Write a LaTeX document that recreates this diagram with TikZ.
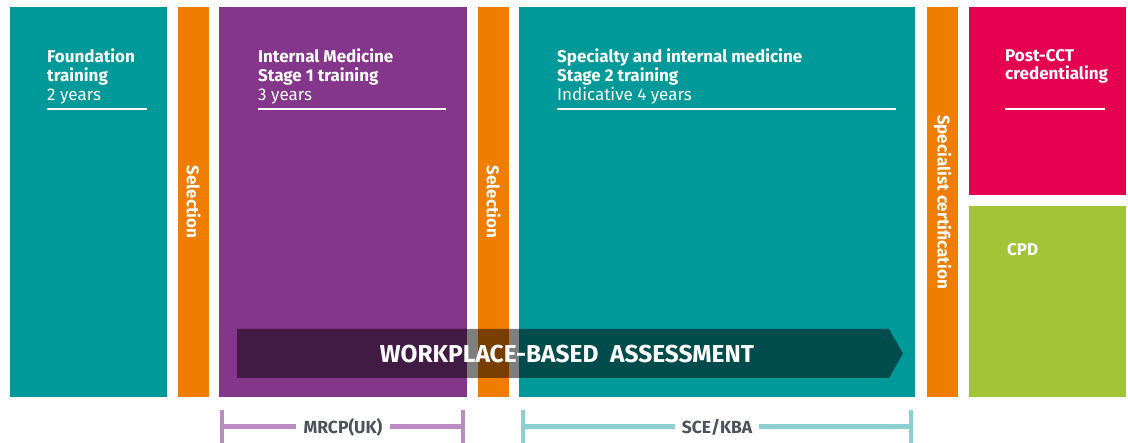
\documentclass[tikz,border=0pt]{standalone}
\usepackage{fontspec}
\setmainfont{Fira Sans}
\definecolor{tealbox}{HTML}{009999}
\definecolor{purplebox}{HTML}{84378A}
\definecolor{orangebar}{HTML}{EF7D00}
\definecolor{pinkbox}{HTML}{E4004F}
\definecolor{greenbox}{HTML}{A2C437}
\definecolor{mrcpline}{HTML}{BB8CC1}
\definecolor{sceline}{HTML}{8DD0D1}
\definecolor{labelgrey}{HTML}{4C5258}

\begin{document}
\begin{tikzpicture}[x=1pt, y=-1pt,
		box/.style={anchor=north west, inner sep=0, outer sep=0},
		head/.style={anchor=north west, inner sep=0, align=left, text=white, font=\fontsize{17}{18.5}\selectfont\bfseries},
		bartext/.style={rotate=-90, text=white, inner sep=0, font=\fontsize{17}{17}\selectfont\bfseries},
		rule/.style={white, line width=2.5pt},
		bracketlabel/.style={anchor=base, inner xsep=7pt, text=labelgrey, font=\fontsize{17.5}{17.5}\selectfont\bfseries}]
		\useasboundingbox (0,0) rectangle (1128,443);
		
		\node[box, fill=tealbox, minimum width=157, minimum height=390] (found) at (10,7) {};
		\node[box, fill=purplebox, minimum width=248, minimum height=390] (imt) at (219,7) {};
		\node[box, fill=tealbox, minimum width=396, minimum height=390] (stage) at (519,7) {};
		\node[box, fill=pinkbox, minimum width=157, minimum height=188] (postcct) at (969,7) {};
		\node[box, fill=greenbox, minimum width=157, minimum height=191] (cpd) at (969,206) {};
		\foreach \x/\t/\n in {178/Selection/sela, 478/Selection/selb, 927/Specialist certification/spec}{
			\node[box, fill=orangebar, minimum width=31, minimum height=390] (\n) at (\x,7) {};
			\node[bartext] (\n txt) at (\n.center) {\t};
		}
		
		\node[head] (foundtxt) at (47,49) {Foundation\\training\\[1pt]{\mdseries 2 years}};
		\node[head] (imttxt) at (258,49) {Internal Medicine\\Stage 1 training\\[1pt]{\mdseries 3 years}};
		\node[head] (stagetxt) at (557,49) {Specialty and internal medicine\\Stage 2 training\\[1pt]{\mdseries Indicative 4 years}};
		\node[head] (postccttxt) at (1005,49) {Post-CCT\\credentialing};
		\node[head] (cpdtxt) at (1007,243) {CPD};
		\draw[rule] (47,109) -- (147,109);
		\draw[rule] (258,109) -- (446,109);
		\draw[rule] (557,109) -- (896,109);
		\draw[rule] (1005,109) -- (1105,109);
		
		\fill[black, opacity=0.5] (237,329) -- (889,329) -- (903,353.5) -- (889,378) -- (237,378) -- cycle;
		\node[anchor=base, text=white, font=\fontsize{24.5}{25}\selectfont\bfseries] (wba) at (567,363) {WORKPLACE-BASED\ \ ASSESSMENT};
		
		\coordinate (mrcpl) at (222,427);
		\coordinate (mrcpr) at (463,427);
		\coordinate (scel) at (523,427);
		\coordinate (scer) at (911,427);
		\node[bracketlabel] (mrcp) at (343,434) {MRCP(UK)};
		\node[bracketlabel] (sce) at (717,434) {SCE/KBA};
		\draw[mrcpline, line width=5pt] (mrcpl) -- (mrcpl -| mrcp.west);
		\draw[mrcpline, line width=5pt] (mrcpr -| mrcp.east) -- (mrcpr);
		\draw[sceline, line width=5pt] (scel) -- (scel -| sce.west);
		\draw[sceline, line width=5pt] (scer -| sce.east) -- (scer);
		\foreach \c/\col in {mrcpl/mrcpline, mrcpr/mrcpline, scel/sceline, scer/sceline}{
			\draw[\col, line width=4.5pt] ([yshift=17pt]\c) -- ([yshift=-16pt]\c);
		}
	\end{tikzpicture}
\end{document}
